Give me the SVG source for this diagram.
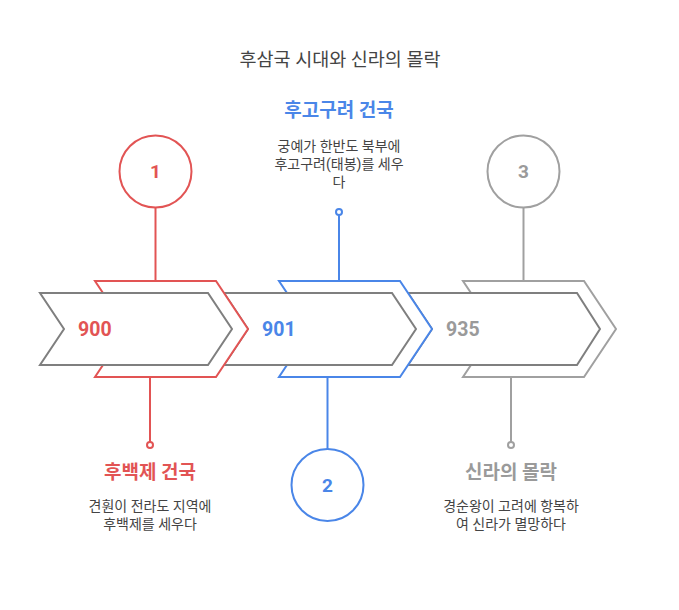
<svg xmlns="http://www.w3.org/2000/svg" width="679" height="610" viewBox="0 0 679 610">
<style>
text{font-family:Roboto,"Noto Sans CJK KR",sans-serif}
.title{font-size:18.5px;fill:#444;text-anchor:middle}
.head{font-size:19px;font-weight:bold;text-anchor:middle}
.desc{font-size:14px;fill:#444;text-anchor:middle}
.yr{font-size:19.5px;font-weight:bold}
.num{font-size:19px;font-weight:bold;text-anchor:middle}
.inner{fill:#fff;stroke:#7f7f7f;stroke-width:2;stroke-linejoin:miter}
.outer{fill:#fff;stroke-width:2}
.red{stroke:#e25454}.blue{stroke:#4a86e8}.gray{stroke:#a0a0a0}
.redt{fill:#e25454}.bluet{fill:#4a86e8}.grayt{fill:#9a9a9a}
.ln{stroke-width:2;fill:none}
</style>
<rect width="679" height="610" fill="#fff"/>
<text class="title" x="340" y="66">후삼국 시대와 신라의 몰락</text>

<g id="step3">
<polygon class="outer gray" points="463,281 584,281 616,329 584,377 463,377 495,329"/>
<polygon class="inner" points="408,293 577,293 600,329 577,365 408,365 432,329"/>
<text class="yr grayt" x="446" y="336">935</text>
</g>
<g id="step2">
<polygon class="outer blue" points="279,281 400,281 432,329 400,377 279,377 311,329"/>
<polygon class="inner" points="224,293 392,293 416,329 392,365 224,365 248,329"/>
<text class="yr bluet" x="262" y="336">901</text>
</g>
<g id="step1">
<polygon class="outer red" points="95,281 216,281 248,329 216,377 95,377 127,329"/>
<polygon class="inner" points="40,293 208,293 232,329 208,365 40,365 64,329"/>
<text class="yr redt" x="78" y="336">900</text>
</g>

<g id="connectors">
<line class="ln red" x1="155.5" y1="207" x2="155.5" y2="281"/>
<line class="ln red" x1="150" y1="377" x2="150" y2="442"/>
<circle class="red" cx="150" cy="445" r="3" fill="#fff" stroke-width="2"/>
<line class="ln blue" x1="339" y1="215" x2="339" y2="281"/>
<circle class="blue" cx="339" cy="212" r="3" fill="#fff" stroke-width="2"/>
<line class="ln blue" x1="327.5" y1="377" x2="327.5" y2="449"/>
<line class="ln gray" x1="523.5" y1="207" x2="523.5" y2="281"/>
<line class="ln gray" x1="511" y1="377" x2="511" y2="442"/>
<circle class="gray" cx="511" cy="445" r="3" fill="#fff" stroke-width="2"/>
</g>

<g id="circle1">
<circle class="red" cx="155.5" cy="171.5" r="36" fill="#fff" stroke-width="2"/>
<text class="num redt" x="155.5" y="178">1</text>
</g>
<g id="circle2">
<circle class="blue" cx="327.5" cy="485" r="36" fill="#fff" stroke-width="2"/>
<text class="num bluet" x="327.5" y="491.5">2</text>
</g>
<g id="circle3">
<circle class="gray" cx="523.5" cy="171.5" r="36" fill="#fff" stroke-width="2"/>
<text class="num grayt" x="523.5" y="178">3</text>
</g>

<g id="label1">
<text class="head redt" x="150" y="479">후백제 건국</text>
<text class="desc" x="150" y="511">견훤이 전라도 지역에</text>
<text class="desc" x="150" y="529">후백제를 세우다</text>
</g>
<g id="label2">
<text class="head bluet" x="339" y="117">후고구려 건국</text>
<text class="desc" x="339" y="151">궁예가 한반도 북부에</text>
<text class="desc" x="339" y="169">후고구려(태봉)를 세우</text>
<text class="desc" x="339" y="187">다</text>
</g>
<g id="label3">
<text class="head grayt" x="511" y="479">신라의 몰락</text>
<text class="desc" x="511" y="511">경순왕이 고려에 항복하</text>
<text class="desc" x="511" y="529">여 신라가 멸망하다</text>
</g>
</svg>
